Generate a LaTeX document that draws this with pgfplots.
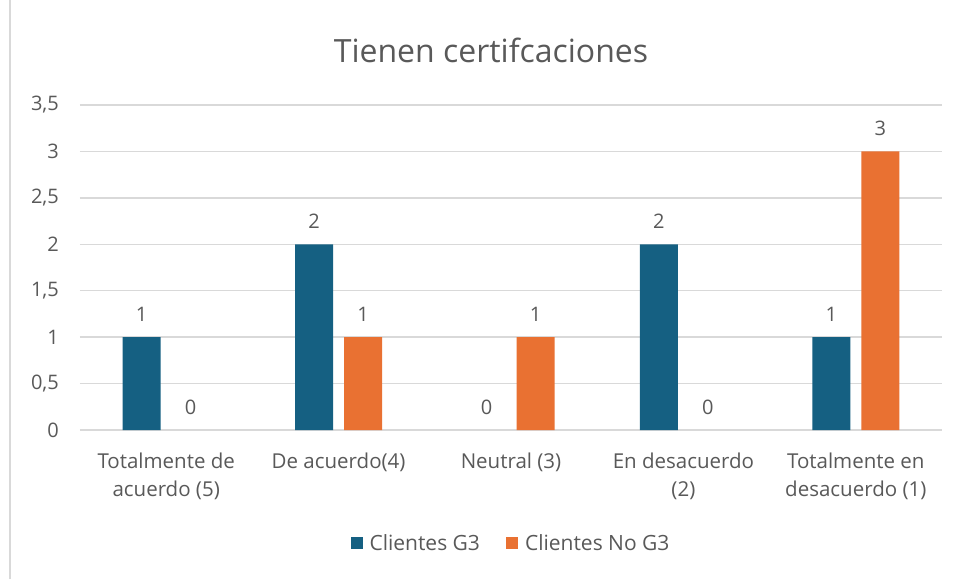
\documentclass[border=0pt]{standalone}
\usepackage{pgfplots}
\pgfplotsset{compat=1.18}
\usepackage{fontspec}
\setmainfont{Open Sans}
\definecolor{cblue}{HTML}{156082}
\definecolor{corange}{HTML}{E97132}
\definecolor{txt}{HTML}{595959}
\definecolor{grd}{HTML}{D9D9D9}
\begin{document}
\begin{tikzpicture}[x=1pt,y=1pt]
\path[use as bounding box, fill=white] (0,0) rectangle (959,579);
\draw[grd, line width=2pt] (10,0) -- (10,579);
\node[txt, font=\fontsize{32}{38}\selectfont] at (491,529) {Tienen certifcaciones};
\begin{axis}[
  at={(80pt,149pt)}, anchor=south west,
  scale only axis, width=862pt, height=325pt,
  xmin=-0.5, xmax=4.5, ymin=0, ymax=3.5,
  ybar, bar width=38pt,
  axis line style={draw=none},
  axis x line*=bottom,
  ytick={0,0.5,...,3.5},
  xtick={0,1,2,3,4},
  xticklabels={{Totalmente de\\acuerdo (5)},{De acuerdo(4)},{Neutral (3)},{En desacuerdo\\(2)},{Totalmente en\\desacuerdo (1)}},
  xticklabel style={align=center, font=\fontsize{20.5}{28}\selectfont, text=txt, inner sep=0pt, yshift=-23pt},
  yticklabel style={font=\fontsize{20}{22}\selectfont, text=txt, inner sep=0pt, xshift=-21pt},
  /pgf/number format/use comma,
  /pgf/number format/assume math mode=true,
  major tick length=0pt,
  tick style={draw=none},
  ymajorgrids, grid style={grd, line width=1.5pt},
  nodes near coords,
  every node near coord/.append style={font=\fontsize{20}{22}\selectfont, text=txt, yshift=12pt},
  legend columns=2,
  legend style={at={(0.5,-0.348)}, anchor=center, draw=none, fill=none, font=\fontsize{21}{24}\selectfont, text=txt,
    /tikz/every odd column/.append style={column sep=5pt},
    /tikz/every even column/.append style={column sep=24pt}},
  legend image code/.code={\fill[#1] (0pt,-6pt) rectangle (12pt,6pt);},
]
\addplot[fill=cblue, draw=none, bar shift=-24.5pt] coordinates {(0,1) (1,2) (3,2) (4,1)};
\addplot[fill=corange, draw=none, bar shift=24.5pt] coordinates {(1,1) (2,1) (4,3)};
\addplot[fill=none, draw=none, bar shift=-24.5pt, forget plot] coordinates {(2,0)};
\addplot[fill=none, draw=none, bar shift=24.5pt, forget plot] coordinates {(0,0) (3,0)};
\legend{Clientes G3, Clientes No G3}
\end{axis}
\end{tikzpicture}
\end{document}
